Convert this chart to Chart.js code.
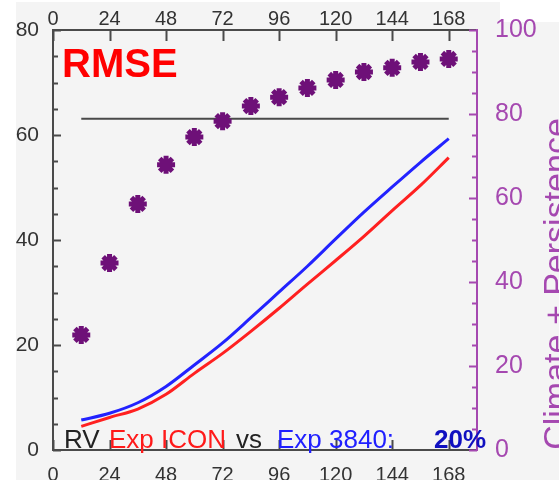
<!DOCTYPE html>
<html>
<head>
<meta charset="utf-8">
<script src="https://cdn.jsdelivr.net/npm/chart.js@4.4.1/dist/chart.umd.min.js"></script>
<style>
    html, body { margin: 0; padding: 0; background: #fff; }
    #wrap { width: 559px; height: 480px; }
</style>
</head>
<body>
<div id="wrap"><canvas id="rmseChart" width="559" height="480"></canvas></div>
<script>
(function () {
    'use strict';

    // forecast lead time in hours
    var leadTimes = [12, 24, 36, 48, 60, 72, 84, 96, 108, 120, 132, 144, 156, 168];
    // RMSE, left axis
    var rmseIcon = [4.5, 6.2, 7.8, 10.6, 14.6, 18.4, 22.6, 27.0, 31.6, 36.1, 40.7, 45.6, 50.4, 55.7];
    var rmse3840 = [5.7, 7.0, 9.0, 12.1, 16.2, 20.4, 25.2, 30.1, 35.0, 40.2, 45.3, 50.1, 54.8, 59.3];
    // climate + persistence, right axis
    var climPersist = [27.4, 44.5, 58.6, 67.9, 74.5, 78.3, 81.9, 84.0, 86.2, 88.1, 90.0, 91.0, 92.4, 93.1];
    // reference level, left axis
    var refSpan = [12, 168];
    var refLevel = [63.1, 63.1];

    var hourTicks = [0, 24, 48, 72, 96, 120, 144, 168];
    var leftTicks = [0, 20, 40, 60, 80];
    var rightTicks = [0, 20, 40, 60, 80, 100];

    var purple = '#a548b0';
    var axisGrey = '#4a4a4a';
    var fontFamily = '"Liberation Sans", Arial, sans-serif';

    function pairs(xs, ys) {
        return xs.map(function (x, i) { return { x: x, y: ys[i] }; });
    }

    var background = {
        id: 'background',
        beforeDraw: function (chart) {
            var ctx = chart.ctx;
            ctx.save();
            ctx.fillStyle = '#ffffff';
            ctx.fillRect(0, 0, chart.width, chart.height);
            ctx.fillStyle = '#f4f4f4';
            ctx.fillRect(16, 2, chart.width - 16, chart.height - 2);
            ctx.fillStyle = '#ffffff';
            ctx.fillRect(500, 0, chart.width - 500, 22);
            ctx.restore();
        }
    };

    // inward tick marks on all four axes
    var tickMarks = {
        id: 'tickMarks',
        afterDraw: function (chart) {
            var ctx = chart.ctx;
            var s = chart.scales;
            var v, p;
            ctx.save();
            ctx.lineWidth = 2;

            ctx.strokeStyle = axisGrey;
            for (v = 0; v <= 80; v += 5) {
                p = Math.round(s.y.getPixelForValue(v)) + 0.5;
                ctx.beginPath();
                ctx.moveTo(s.y.right, p);
                ctx.lineTo(s.y.right + (v % 20 === 0 ? 8 : 5), p);
                ctx.stroke();
            }
            hourTicks.forEach(function (h) {
                var px = Math.round(s.x.getPixelForValue(h)) + 0.5;
                ctx.beginPath();
                ctx.moveTo(px, s.x.top);
                ctx.lineTo(px, s.x.top - 10);
                ctx.stroke();
                ctx.beginPath();
                ctx.moveTo(px, s.xTop.bottom);
                ctx.lineTo(px, s.xTop.bottom + 11);
                ctx.stroke();
            });

            ctx.strokeStyle = purple;
            for (v = 0; v <= 100; v += 5) {
                p = Math.round(s.y2.getPixelForValue(v)) + 0.5;
                ctx.beginPath();
                ctx.moveTo(s.y2.left, p);
                ctx.lineTo(s.y2.left - (v % 20 === 0 ? 8 : 5), p);
                ctx.stroke();
            }
            ctx.restore();
        }
    };

    var annotations = {
        id: 'annotations',
        afterDraw: function (chart) {
            var ctx = chart.ctx;
            ctx.save();

            ctx.fillStyle = '#ff0000';
            ctx.font = 'bold 40px ' + fontFamily;
            ctx.textBaseline = 'alphabetic';
            ctx.fillText('RMSE', 62, 77);

            ctx.font = '26px ' + fontFamily;
            var parts = [
                ['RV', 64, '#222222'],
                ['Exp ICON', 109, '#ff1a1a'],
                ['vs', 236, '#222222'],
                ['Exp 3840:', 277, '#2020ff']
            ];
            parts.forEach(function (t) {
                ctx.fillStyle = t[2];
                ctx.fillText(t[0], t[1], 448);
            });
            ctx.fillStyle = '#1010c0';
            ctx.font = 'bold 26px ' + fontFamily;
            ctx.fillText('20%', 434, 448);

            // right axis title, partly running off the canvas edge
            ctx.translate(567, 284);
            ctx.rotate(-Math.PI / 2);
            ctx.fillStyle = purple;
            ctx.font = '34px ' + fontFamily;
            ctx.textAlign = 'center';
            ctx.fillText('Climate + Persistence', 0, 0);
            ctx.restore();
        }
    };

    var hourAxis = function (position, height, padding) {
        return {
            type: 'linear',
            position: position,
            min: 0,
            max: 180,
            afterFit: function (scale) { scale.height = height; },
            grid: { display: false },
            border: { display: true, color: axisGrey, width: 2 },
            ticks: {
                stepSize: 24,
                includeBounds: false,
                maxRotation: 0,
                autoSkip: false,
                padding: padding,
                color: '#333333',
                font: { family: fontFamily, size: 20 }
            }
        };
    };

    var xTop = hourAxis('top', 30, -9);
    xTop.axis = 'x';

    new Chart(document.getElementById('rmseChart'), {
        type: 'line',
        data: {
            datasets: [
                {
                    label: 'Climate + Persistence',
                    data: pairs(leadTimes, climPersist),
                    yAxisID: 'y2',
                    showLine: false,
                    pointStyle: 'star',
                    pointRadius: 9,
                    pointBorderWidth: 5,
                    borderColor: '#6e1078',
                    backgroundColor: '#6e1078',
                    order: 0
                },
                {
                    label: 'Exp 3840',
                    data: pairs(leadTimes, rmse3840),
                    yAxisID: 'y',
                    borderColor: '#2222ff',
                    borderWidth: 3,
                    pointRadius: 0,
                    cubicInterpolationMode: 'monotone',
                    order: 1
                },
                {
                    label: 'Exp ICON',
                    data: pairs(leadTimes, rmseIcon),
                    yAxisID: 'y',
                    borderColor: '#ff2020',
                    borderWidth: 3,
                    pointRadius: 0,
                    cubicInterpolationMode: 'monotone',
                    order: 2
                },
                {
                    label: 'ref',
                    data: pairs(refSpan, refLevel),
                    yAxisID: 'y',
                    borderColor: '#4a4a4a',
                    borderWidth: 2,
                    pointRadius: 0,
                    order: 3
                }
            ]
        },
        options: {
            responsive: false,
            animation: false,
            layout: { padding: 0 },
            plugins: {
                legend: { display: false },
                tooltip: { enabled: false }
            },
            scales: {
                x: hourAxis('bottom', 30, 5),
                xTop: xTop,
                y: {
                    type: 'linear',
                    position: 'left',
                    min: 0,
                    max: 80,
                    afterFit: function (scale) { scale.width = 53; },
                    grid: { display: false },
                    border: { display: true, color: axisGrey, width: 2 },
                    afterBuildTicks: function (scale) {
                        scale.ticks = leftTicks.map(function (v) { return { value: v }; });
                    },
                    ticks: {
                        padding: 6,
                        color: '#333333',
                        font: { family: fontFamily, size: 21 }
                    }
                },
                y2: {
                    type: 'linear',
                    position: 'right',
                    min: 0,
                    max: 100,
                    afterFit: function (scale) { scale.width = 82; },
                    grid: { display: false },
                    border: { display: true, color: purple, width: 2 },
                    afterBuildTicks: function (scale) {
                        scale.ticks = rightTicks.map(function (v) { return { value: v }; });
                    },
                    ticks: {
                        padding: 10,
                        color: purple,
                        font: { family: fontFamily, size: 25 }
                    }
                }
            }
        },
        plugins: [background, tickMarks, annotations]
    });
})();
</script>
</body>
</html>
